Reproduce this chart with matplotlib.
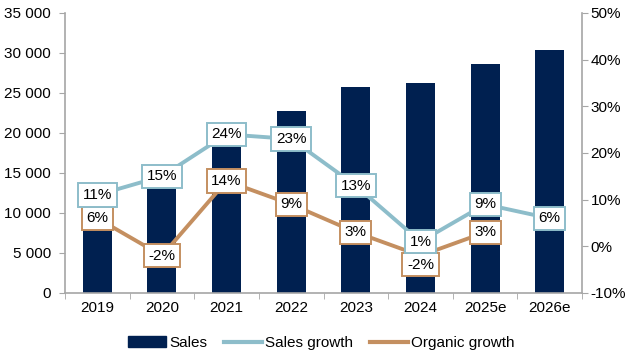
import matplotlib.pyplot as plt
from matplotlib.ticker import FuncFormatter

plt.rcParams['font.family'] = ['Liberation Sans', 'DejaVu Sans']

years = ['2019', '2020', '2021', '2022', '2023', '2024', '2025e', '2026e']
sales = [13000, 14950, 18500, 22800, 25800, 26200, 28600, 30400]
sales_growth = [11, 15, 24, 23, 13, 1, 9, 6]
organic_growth = [6, -2, 14, 9, 3, -2, 3]

navy = '#002050'
blue = '#8dbdca'
tan = '#c48f60'
grey = '#a6a6a6'

x = list(range(len(years)))

fig = plt.figure(figsize=(6.26, 3.56), dpi=100)
ax = fig.add_axes([0.1038, 0.177, 0.826, 0.7865])
ax2 = ax.twinx()

ax.bar(x, sales, width=0.45, color=navy, zorder=2)
ax.set_ylim(0, 35000)
ax.set_xlim(-0.5, len(years) - 0.5)
ax.set_yticks(range(0, 35001, 5000))
ax.yaxis.set_major_formatter(FuncFormatter(lambda v, p: f'{int(v):,}'.replace(',', ' ')))
ax.set_xticks(x)
ax.set_xticklabels(years)
ax.set_xticks([i + 0.5 for i in range(-1, len(years))], minor=True)
ax.tick_params(axis='x', which='major', length=0, pad=6)
ax.tick_params(axis='x', which='minor', length=4, color=grey)
ax.tick_params(axis='y', length=4, color=grey, pad=6)
ax.tick_params(labelsize=11, labelcolor='black')

ax2.set_ylim(-10, 50)
ax2.set_yticks(range(-10, 51, 10))
ax2.yaxis.set_major_formatter(FuncFormatter(lambda v, p: f'{int(v)}%'))
ax2.tick_params(axis='y', length=4, color=grey, labelsize=11, pad=2)

for a in (ax, ax2):
    a.spines['top'].set_visible(False)
    for s in ('left', 'right', 'bottom'):
        a.spines[s].set_color(grey)
        a.spines[s].set_linewidth(1.2)
ax.spines['right'].set_visible(False)
ax2.spines['left'].set_visible(False)
ax2.spines['bottom'].set_visible(False)

ax2.plot(x[:len(organic_growth)], organic_growth, color=tan, lw=2.8, zorder=3)
ax2.plot(x, sales_growth, color=blue, lw=2.8, zorder=4)

for xi, v in zip(x, organic_growth):
    # the 2024 label sits a little below its point so it clears the sales growth label
    dy = -9 if years[xi] == '2024' else 0
    ax2.annotate(f'{v}%', (xi, v), xytext=(0, dy), textcoords='offset pixels',
                 ha='center', va='center', fontsize=11, zorder=5,
                 bbox=dict(boxstyle='square,pad=0.3', fc='white', ec=tan, lw=1.4))
for xi, v in zip(x, sales_growth):
    ax2.text(xi, v, f'{v}%', ha='center', va='center', fontsize=11, zorder=6,
             bbox=dict(boxstyle='square,pad=0.3', fc='white', ec=blue, lw=1.4))

handles = [
    plt.Rectangle((0, 0), 1, 1, color=navy),
    plt.Line2D([0], [0], color=blue, lw=3),
    plt.Line2D([0], [0], color=tan, lw=3),
]
fig.legend(handles, ['Sales', 'Sales growth', 'Organic growth'], loc='center',
           bbox_to_anchor=(0.513, 0.036), ncol=3, frameon=False, fontsize=11,
           handlelength=2.5, handletextpad=0.2, columnspacing=1.1)

fig.savefig('out.png', dpi=100)
